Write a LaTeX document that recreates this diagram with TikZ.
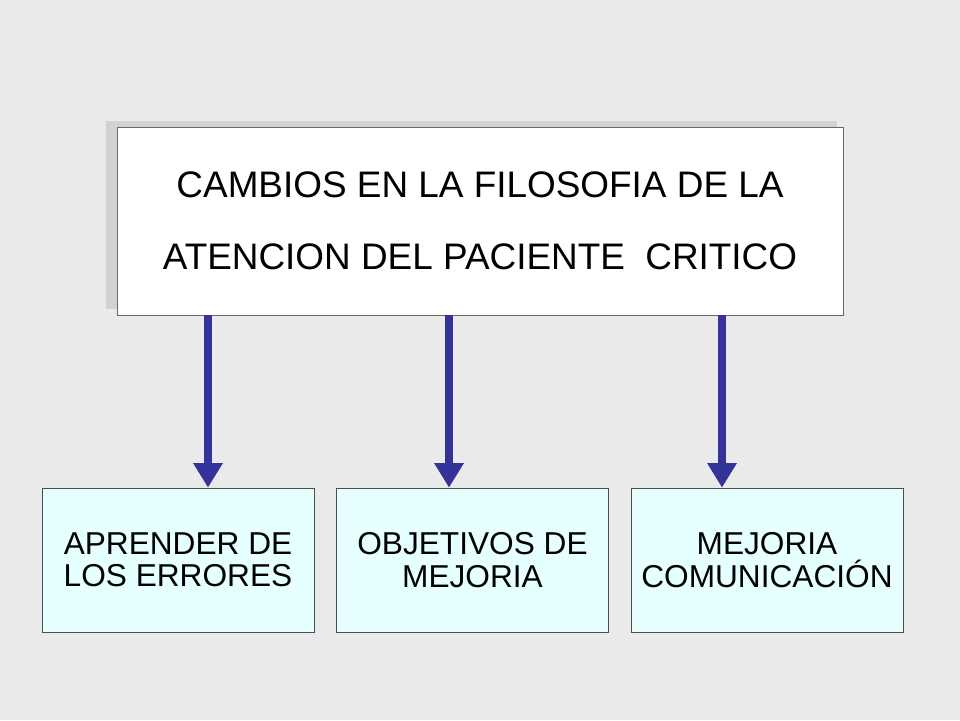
\documentclass[tikz,border=0pt]{standalone}
\usepackage{fontspec}
\setmainfont{Liberation Sans}
\definecolor{bg}{HTML}{EAEAEA}
\definecolor{arrowblue}{HTML}{333399}
\definecolor{boxcyan}{HTML}{E6FFFF}
\tikzset{
  mainbox/.style={draw=gray!80!black, fill=white, minimum width=14.52cm, minimum height=3.76cm, align=center, font=\fontsize{21}{41}\selectfont, inner sep=0pt},
  subbox/.style={draw=black!70, fill=boxcyan, minimum width=5.44cm, minimum height=2.88cm, align=center, font=\fontsize{18}{18.5}\selectfont, inner sep=0pt},
  link/.style={arrowblue, line width=5pt, -{Triangle[width=16pt,length=14pt]}}
}
\usetikzlibrary{arrows.meta}
\begin{document}
\begin{tikzpicture}
    \fill[bg] (0,0) rectangle (19.2,14.4);
    \useasboundingbox (0,0) rectangle (19.2,14.4);
    % shadow of the main box
    \fill[gray!35] (2.12,8.22) rectangle (16.74,11.98);
    \node[mainbox] (top) at (9.6,9.98) {CAMBIOS EN LA FILOSOFIA DE LA\\ATENCION DEL PACIENTE\ \ CRITICO};
    \node[subbox] (b1) at (3.56,3.2) {APRENDER DE\\LOS ERRORES};
    \node[subbox] (b2) at (9.45,3.2) {OBJETIVOS DE\\MEJORIA};
    \node[subbox] (b3) at (15.34,3.2) {MEJORIA\\COMUNICACIÓN};
    \coordinate (a1) at (4.16,0);
    \coordinate (a2) at (8.98,0);
    \coordinate (a3) at (14.44,0);
    \draw[link] (top.south -| a1) -- (b1.north -| a1);
    \draw[link] (top.south -| a2) -- (b2.north -| a2);
    \draw[link] (top.south -| a3) -- (b3.north -| a3);
\end{tikzpicture}
\end{document}
